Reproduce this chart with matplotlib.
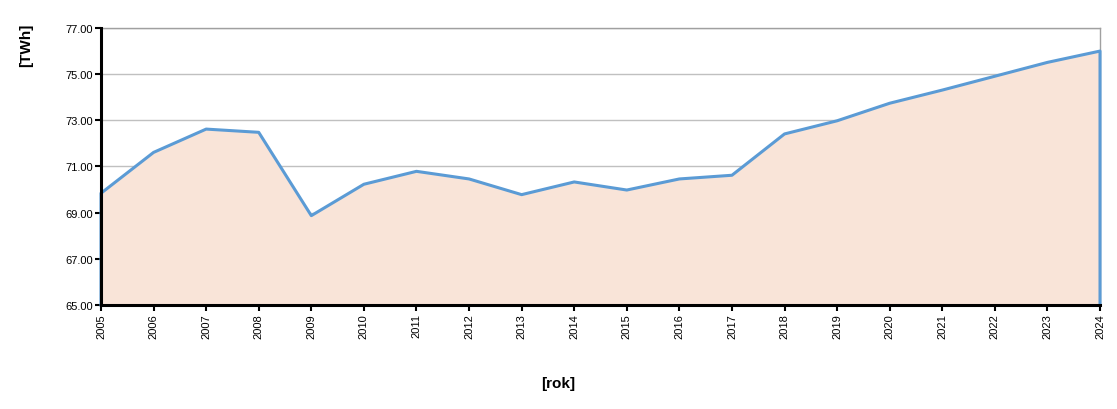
import matplotlib.pyplot as plt

plt.rcParams['font.family'] = ['Liberation Sans', 'DejaVu Sans']

years = list(range(2005, 2025))
twh = [69.84, 71.61, 72.62, 72.48, 68.87, 70.23, 70.79, 70.46, 69.78, 70.33,
       69.98, 70.46, 70.62, 72.41, 72.98, 73.74, 74.31, 74.91, 75.51, 76.00]
yticks = [65, 67, 69, 71, 73, 75, 77]

fig = plt.figure(figsize=(11.17, 4.10), dpi=100)
ax = fig.add_axes([0.0904, 0.2537, 0.8944, 0.6756])

ymin = 65
ax.fill_between(years, twh, ymin, color="#F9E4D8", lw=0, zorder=1)
ax.plot([years[0]] + years + [years[-1]], [ymin] + twh + [ymin],
        color="#5B9BD5", lw=2.2, zorder=3, clip_on=False)

ax.set_xlim(years[0], years[-1])
ax.set_ylim(65, 77)
ax.set_yticks(yticks)
ax.set_yticklabels([f"{v:.2f}" for v in yticks], fontsize=8)
ax.set_xticks(years)
ax.set_xticklabels([str(y) for y in years], rotation=90, fontsize=8)
ax.grid(axis="y", color="#C0C0C0", lw=1, zorder=0)
ax.set_axisbelow(True)

for s in ["left", "bottom"]:
    ax.spines[s].set_linewidth(2.2)
    ax.spines[s].set_color("black")
    ax.spines[s].set_zorder(4)
for s in ["top", "right"]:
    ax.spines[s].set_linewidth(1)
    ax.spines[s].set_color("#A0A0A0")
ax.tick_params(axis="both", direction="out", length=4, width=1.5, pad=2)

fig.text(0.023, 0.89, "[TWh]", rotation=90, fontsize=11, fontweight="bold", ha="center", va="center")
fig.text(0.5, 0.063, "[rok]", fontsize=11, fontweight="bold", ha="center", va="center")

fig.savefig("out.png", dpi=100)
